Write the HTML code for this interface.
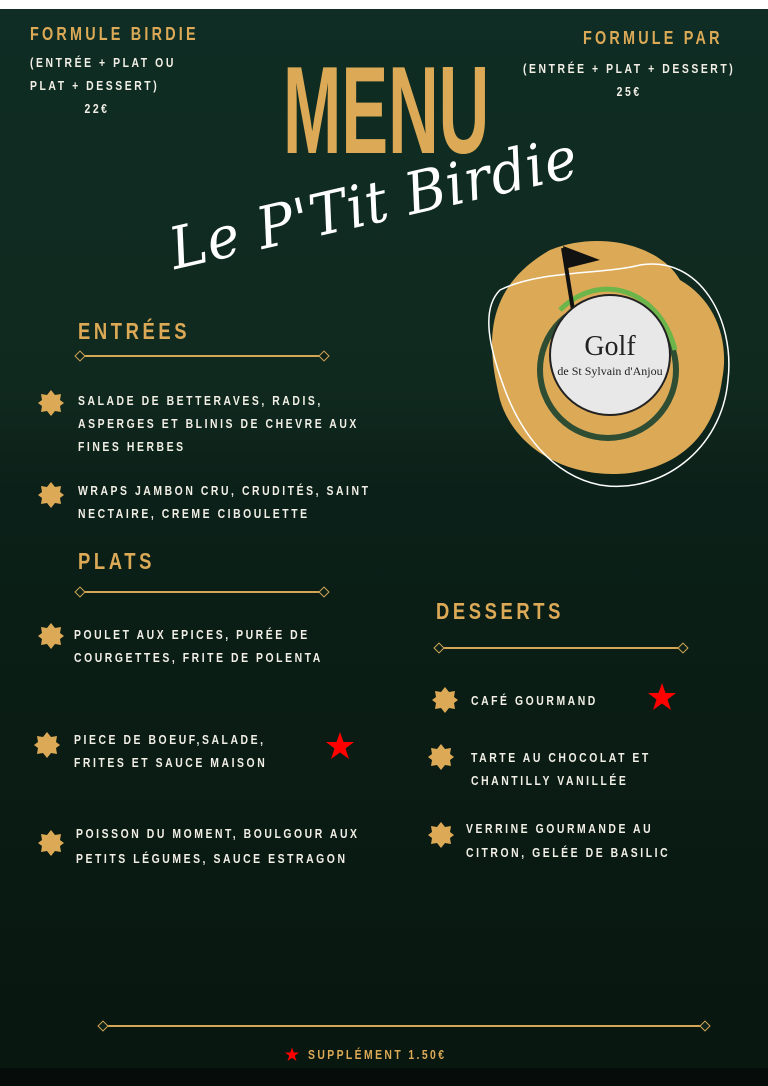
<!DOCTYPE html>
<html><head><meta charset="utf-8"><style>
*{margin:0;padding:0;box-sizing:border-box}
body{width:768px;height:1086px;overflow:hidden;background:#fff;position:relative;font-family:"Liberation Sans",sans-serif}
#bg{position:absolute;left:0;top:9px;width:768px;height:1077px;background:linear-gradient(#0f2d24 0%,#10291f 35%,#0b2018 45%,#08170f 100%)}
.t{position:absolute;font-weight:bold;letter-spacing:3px;white-space:nowrap;transform:scaleX(0.8);transform-origin:left top}
.g{color:#dcaa57}
.w{color:#f2efe6;font-size:13px;line-height:23px;letter-spacing:3.2px}
.h{font-size:23px;letter-spacing:4.5px}
.line{position:absolute;height:2px;background:#d4a757}
.line:before,.line:after{content:"";position:absolute;top:-3px;width:6px;height:6px;border:1.5px solid #d4a757;transform:rotate(45deg);background:#0d2219}
.line:before{left:-4px}.line:after{right:-4px}
</style></head><body>
<div id="bg"></div>
<div style="position:absolute;left:0;top:1068px;width:768px;height:18px;background:#050c09"></div>

<div class="t g" style="left:30px;top:24px;font-size:18px;letter-spacing:4px">FORMULE BIRDIE</div>
<div class="t w" style="left:30px;top:51px">(ENTRÉE + PLAT OU<br>PLAT + DESSERT)<br>&nbsp;&nbsp;&nbsp;&nbsp;&nbsp;&nbsp;&nbsp;&nbsp;&nbsp;&nbsp;22€</div>
<div class="t g" style="left:583px;top:28px;font-size:18px;letter-spacing:4px">FORMULE PAR</div>
<div class="t w" style="left:523px;top:57px;text-align:center">(ENTRÉE + PLAT + DESSERT)<br>25€</div>

<div class="t g" style="left:283px;top:41px;font-size:124px;letter-spacing:0;line-height:140px;transform:scaleX(0.565)">MENU</div>
<div style="position:absolute;left:178px;top:215px;font-family:'DejaVu Serif',serif;font-style:italic;font-size:58px;color:#fff;transform:rotate(-13deg) scaleX(0.95);transform-origin:left bottom;white-space:nowrap;letter-spacing:1px">Le P'Tit Birdie</div>

<svg style="position:absolute;left:460px;top:230px" width="280" height="270">
<path d="M90 20 C140 0 200 15 220 50 C255 70 270 110 262 150 C255 200 225 235 170 243 C110 250 55 220 40 170 C28 120 20 60 90 20Z" fill="#dcaa57"/>
<path d="M40 60 C80 40 140 45 180 35 C240 25 275 90 268 150 C262 220 200 265 140 255 C90 245 60 200 45 160 C30 120 20 80 40 60Z" fill="none" stroke="#fff" stroke-width="1.5"/>
<circle cx="148" cy="140" r="68" fill="none" stroke="#2e4d33" stroke-width="6"/>
<path d="M100 80 C140 40 200 60 215 120" fill="none" stroke="#6cb54a" stroke-width="5"/>
<path d="M103 18 L113 80" stroke="#111" stroke-width="4"/>
<path d="M103 16 L140 30 L108 38Z" fill="#111"/>
<circle cx="150" cy="125" r="60" fill="#e8e8e8" stroke="#222" stroke-width="2"/>
<text x="150" y="125" text-anchor="middle" font-family="Liberation Serif,serif" font-size="28" fill="#222">Golf</text>
<text x="150" y="145" text-anchor="middle" font-family="Liberation Serif,serif" font-size="12" fill="#222">de St Sylvain d'Anjou</text>
</svg>

<div class="t g h" style="left:78px;top:318px">ENTRÉES</div>
<div class="line" style="left:80px;top:355px;width:244px"></div>
<div class="t w" style="left:78px;top:389px">SALADE DE BETTERAVES, RADIS,<br>ASPERGES ET BLINIS DE CHEVRE AUX<br>FINES HERBES</div>
<div class="t w" style="left:78px;top:479px">WRAPS JAMBON CRU, CRUDITÉS, SAINT<br>NECTAIRE, CREME CIBOULETTE</div>

<div class="t g h" style="left:78px;top:548px">PLATS</div>
<div class="line" style="left:80px;top:591px;width:244px"></div>
<div class="t w" style="left:74px;top:623px">POULET AUX EPICES, PURÉE DE<br>COURGETTES, FRITE DE POLENTA</div>
<div class="t w" style="left:74px;top:728px">PIECE DE BOEUF,SALADE,<br>FRITES ET SAUCE MAISON</div>
<div class="t w" style="left:76px;top:821px;line-height:25px">POISSON DU MOMENT, BOULGOUR AUX<br>PETITS LÉGUMES, SAUCE ESTRAGON</div>

<div class="t g h" style="left:436px;top:598px">DESSERTS</div>
<div class="line" style="left:439px;top:647px;width:244px"></div>
<div class="t w" style="left:471px;top:689px">CAFÉ GOURMAND</div>
<div class="t w" style="left:471px;top:746px">TARTE AU CHOCOLAT ET<br>CHANTILLY VANILLÉE</div>
<div class="t w" style="left:466px;top:817px;line-height:24px">VERRINE GOURMANDE AU<br>CITRON, GELÉE DE BASILIC</div>

<svg style="position:absolute;left:0;top:0" width="768" height="1086">
<defs><path id="s" d="M0 -13 L4 -8 L10 -9 L9 -3 L13 0 L9 3 L10 9 L4 8 L0 13 L-4 8 L-10 9 L-9 3 L-13 0 L-9 -3 L-10 -9 L-4 -8Z" fill="#dcaa57"/>
<path id="r" d="M0 -15 L3.5 -5 L14 -5 L5.5 1.5 L9 12 L0 5.5 L-9 12 L-5.5 1.5 L-14 -5 L-3.5 -5Z" fill="#f00"/></defs>
<use href="#s" x="51" y="403"/><use href="#s" x="51" y="495"/><use href="#s" x="51" y="636"/>
<use href="#s" x="47" y="745"/><use href="#s" x="51" y="843"/>
<use href="#s" x="445" y="700"/><use href="#s" x="441" y="757"/><use href="#s" x="441" y="835"/>
<use href="#r" x="340" y="747"/><use href="#r" x="662" y="698"/>
<use href="#r" x="292" y="1055" transform="translate(292 1055) scale(0.5) translate(-292 -1055)"/>
</svg>
<div class="line" style="left:103px;top:1025px;width:602px"></div>
<div class="t g" style="left:308px;top:1047px;font-size:13px;letter-spacing:3px">SUPPLÉMENT 1.50€</div>
</body></html>
